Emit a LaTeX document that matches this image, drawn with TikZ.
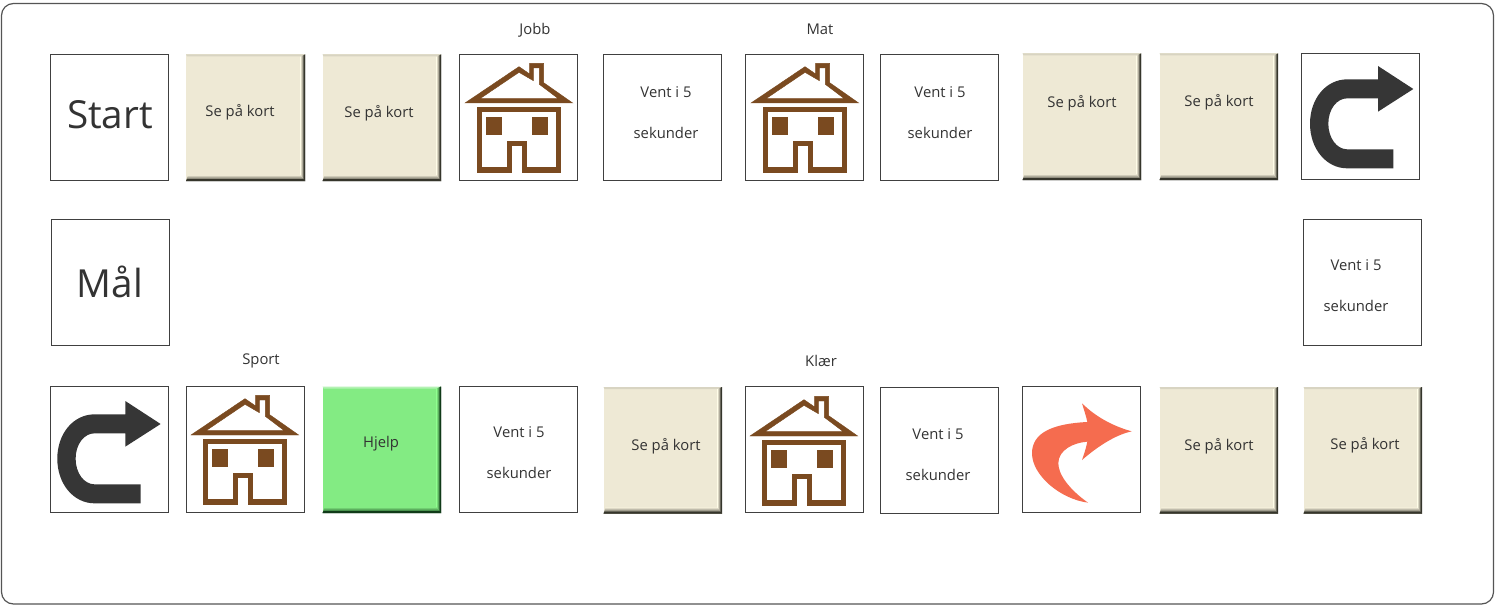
\documentclass[tikz,border=0pt]{standalone}
\usepackage{fontspec}
\setmainfont{Open Sans}
\definecolor{ink}{HTML}{333333}
\definecolor{lineC}{HTML}{404040}
\definecolor{frameC}{HTML}{555555}
\definecolor{cream}{HTML}{EEE9D5}
\definecolor{creamTop}{HTML}{D8D4C2}
\definecolor{creamDark}{HTML}{35352B}
\definecolor{mint}{HTML}{83EB83}
\definecolor{mintTop}{HTML}{B4F2B4}
\definecolor{mintDark}{HTML}{103A18}
\definecolor{brownC}{HTML}{7A4A20}
\definecolor{orangeC}{HTML}{F56C4F}
\definecolor{arrowC}{HTML}{363636}
\newcommand{\bevelpaint}[3]{%
  \path (path picture bounding box.north west) coordinate (bnw)
        (path picture bounding box.south east) coordinate (bse)
        (path picture bounding box.north east) coordinate (bne)
        (path picture bounding box.south west) coordinate (bsw);
  \fill[#2] (bnw) -- (bne) -- ([shift={(-2,2)}]bne) -- ([shift={(1,2)}]bnw) -- cycle;
  \shade[left color=#1, right color=#3] (bne) -- (bse) -- ([shift={(-4.5,-6)}]bse) -- ([shift={(-4.5,2)}]bne) -- cycle;
  \shade[top color=#1, bottom color=#3] (bsw) -- (bse) -- ([shift={(-4.5,-6)}]bse) -- ([shift={(2,-6)}]bsw) -- cycle;
  \fill[#3] (bne) -- (bse) -- ([shift={(-1.5,-2)}]bse) -- ([shift={(-1.5,1)}]bne) -- cycle;
  \fill[#3] (bsw) -- (bse) -- ([shift={(-1.5,-2)}]bse) -- ([shift={(1,-2)}]bsw) -- cycle;
}
\tikzset{
  x=0.75pt, y=-0.75pt,
  cellbox/.style={rectangle, inner sep=0pt, outer sep=0pt},
  plainbox/.style={cellbox, draw=lineC, line width=0.7pt, fill=white},
  creambtn/.style={cellbox, fill=cream, path picture={\bevelpaint{cream}{creamTop}{creamDark}}},
  mintbtn/.style={cellbox, fill=mint, path picture={\bevelpaint{mint}{mintTop}{mintDark}}},
  small/.style={text=ink, font=\fontsize{11.1pt}{12pt}\selectfont, inner sep=0pt},
  big/.style={text=ink, font=\fontsize{29pt}{34pt}\selectfont, inner sep=0pt},
  wait/.style={small, align=center},
}
\newcommand{\cellat}[6]{\node[#1, minimum width={(#5-#3)*0.75pt}, minimum height={(#6-#4)*0.75pt}] (#2) at ({(#3+#5)/2},{(#4+#6)/2}) {};}
\newcommand{\waittext}[3]{\node[wait] (#1) at (#2,#3) {Vent i 5\\[18.75pt]sekunder};}
% icons are drawn in 1/3-pixel units from an absolute origin
\newcommand{\houseicon}[2]{%
  \begin{scope}[shift={(#1,#2)}, x=0.25pt, y=-0.25pt]
    \filldraw[brownC, line width=0.3pt, even odd rule]
      (45,189) -- (207,80) -- (239,102) -- (239,70) -- (281,70) -- (281,128) -- (368,189) -- cycle
      (90,176) -- (325,176) -- (268,133) -- (268,84) -- (250,84) -- (250,122) -- (207,97) -- cycle;
    \filldraw[brownC, line width=0.3pt, even odd rule]
      (81,202) -- (331,202) -- (331,396) -- (217,396) -- (217,316) -- (184,316) -- (184,396) -- (81,396) -- cycle
      (94,214) -- (94,382) -- (171,382) -- (171,303) -- (229,303) -- (229,382) -- (318,382) -- (318,214) -- cycle;
    \fill[brownC] (107,231) rectangle (155,284);
    \fill[brownC] (245,231) rectangle (293,284);
  \end{scope}}
\newcommand{\uturnicon}[2]{%
  \begin{scope}[shift={(#1,#2)}, x=0.25pt, y=-0.25pt]
    \fill[arrowC] (264,118) -- (172,118) .. controls (108,118) and (60,176) .. (60,251)
      .. controls (60,326) and (108,385) .. (172,385) -- (310,385) -- (310,328) -- (172,328)
      .. controls (140,328) and (115,294) .. (115,251) .. controls (115,208) and (140,175) .. (172,175)
      -- (264,175) -- (264,215) -- (370,147) -- (264,78) -- cycle;
  \end{scope}}
\newcommand{\swooshicon}[2]{%
  \begin{scope}[shift={(#1,#2)}, x=0.25pt, y=-0.25pt]
    \fill[orangeC] (216,85) .. controls (222,105) and (228,122) .. (232,141)
      .. controls (130,146) and (66,172) .. (66,235)
      .. controls (66,300) and (150,372) .. (234,383)
      .. controls (180,345) and (145,300) .. (145,265)
      .. controls (145,225) and (190,203) .. (232,200)
      .. controls (228,220) and (222,238) .. (216,255)
      .. controls (262,215) and (315,180) .. (365,169)
      .. controls (315,155) and (262,130) .. (216,85) -- cycle;
  \end{scope}}
\begin{document}
\begin{tikzpicture}
\useasboundingbox (0,0) rectangle (1500,610);
\fill[white] (0,0) rectangle (1500,610);
\draw[frameC, line width=0.9pt, rounded corners=9pt] (1.5,3.5) rectangle (1493.5,604);
% row 1
\cellat{plainbox}{c1}{50.5}{54.5}{168.5}{180.5}
\cellat{creambtn}{c2}{186}{54.5}{305}{181}
\cellat{creambtn}{c3}{322.5}{54.5}{441}{181}
\cellat{plainbox}{c4}{459.5}{54.5}{577.5}{180.5}
\cellat{plainbox}{c5}{603.5}{54.5}{721.5}{180.5}
\cellat{plainbox}{c6}{745.5}{54.5}{863.5}{180.5}
\cellat{plainbox}{c7}{880.5}{54.5}{998.5}{180.5}
\cellat{creambtn}{c8}{1022.5}{53.5}{1141}{180}
\cellat{creambtn}{c9}{1159.5}{53.5}{1278}{180}
\cellat{plainbox}{c10}{1301.5}{53.5}{1419.5}{179.5}
% row 2
\cellat{plainbox}{m1}{51.5}{219.5}{169.5}{345.5}
\cellat{plainbox}{m2}{1303.5}{219.5}{1421.5}{345.5}
% row 3
\cellat{plainbox}{r1}{50.5}{386.5}{168.5}{512.5}
\cellat{plainbox}{r2}{186.5}{386.5}{304.5}{512.5}
\cellat{mintbtn}{r3}{322.5}{386.5}{441}{513}
\cellat{plainbox}{r4}{459.5}{386.5}{577.5}{512.5}
\cellat{creambtn}{r5}{603.5}{387}{722}{513.5}
\cellat{plainbox}{r6}{745.5}{386.5}{863.5}{512.5}
\cellat{plainbox}{r7}{880.5}{387.5}{998.5}{513.5}
\cellat{plainbox}{r8}{1022.5}{386.5}{1140.5}{512.5}
\cellat{creambtn}{r9}{1159.5}{387}{1278}{513.5}
\cellat{creambtn}{r10}{1303.5}{387}{1422}{513.5}
% icons
\houseicon{450}{40}\houseicon{736}{40}\houseicon{176}{372}\houseicon{735}{373}
\uturnicon{1290}{40}\uturnicon{37.3}{375}
\swooshicon{1010}{375}
% big labels
\node[big] (tstart) at (110,115) {Start};
\node[big] (tmaal) at (110,282) {Mål};
% button labels
\node[small] (t2) at (240,112) {Se på kort};
\node[small] (t3) at (379,113) {Se på kort};
\node[small] (t8) at (1082,103) {Se på kort};
\node[small] (t9) at (1219,102) {Se på kort};
\node[small] (t15) at (381,444) {Hjelp};
\node[small] (t16) at (666,446) {Se på kort};
\node[small] (t17) at (1219,446) {Se på kort};
\node[small] (t18) at (1365,445) {Se på kort};
% wait labels
\waittext{w1}{666}{112.5}
\waittext{w2}{940}{112.5}
\waittext{w3}{1356}{286}
\waittext{w4}{519}{453}
\waittext{w5}{938}{455}
% captions
\node[small] (l1) at (535,30) {Jobb};
\node[small] (l2) at (820,29.5) {Mat};
\node[small] (l3) at (261,361) {Sport};
\node[small] (l4) at (821,360.5) {Klær};
\end{tikzpicture}
\end{document}
